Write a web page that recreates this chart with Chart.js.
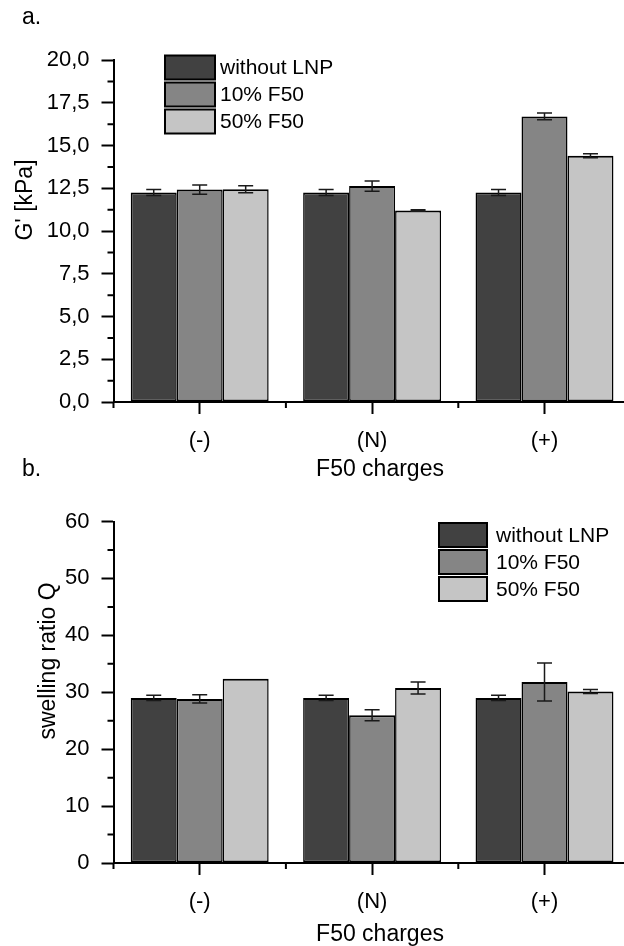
<!DOCTYPE html>
<html><head><meta charset="utf-8">
<script src="https://cdn.jsdelivr.net/npm/chart.js@4.4.0/dist/chart.umd.min.js"></script>
<style>
html,body{margin:0;padding:0;background:#fff;overflow:hidden;width:624px;height:946px;}
#wrap{position:relative;width:640px;height:946px;overflow:hidden;}
canvas{position:absolute;left:0;}
#cA{top:0;}
#cB{top:480px;}
</style></head><body>
<div id="wrap"><canvas id="cA" width="640" height="490"></canvas><canvas id="cB" width="640" height="466"></canvas></div>
<script>
// ---- data ----
const categories = ['(-)', '(N)', '(+)'];
const seriesNames = ['without LNP', '10% F50', '50% F50'];
const seriesColors = ['#414141', '#858585', '#c5c5c5'];

// panel a: G' [kPa]
const gNoLNP = [12.25, 12.25, 12.25];
const g10 = [12.42, 12.63, 16.7];
const g50 = [12.44, 11.2, 14.4];
const gErrNoLNP = [0.18, 0.18, 0.18];
const gErr10 = [0.27, 0.3, 0.2];
const gErr50 = [0.2, 0.05, 0.12];
const gTicks = [0, 2.5, 5, 7.5, 10, 12.5, 15, 17.5, 20];

// panel b: swelling ratio Q
const qNoLNP = [29.0, 29.0, 29.0];
const q10 = [28.83, 25.95, 31.79];
const q50 = [32.38, 30.74, 30.15];
const qErrNoLNP = [0.47, 0.47, 0.47];
const qErr10 = [0.73, 0.97, 3.34];
const qErr50 = [0, 1.06, 0.35];
const qTicks = [0, 10, 20, 30, 40, 50, 60];

const FONT = '"Liberation Sans", Arial, sans-serif';
Chart.defaults.font.family = FONT;
Chart.defaults.color = '#000';

const errorBarPlugin = {
  id: 'errBars',
  afterDatasetsDraw(chart) {
    const ctx = chart.ctx, y = chart.scales.y;
    ctx.save();
    ctx.strokeStyle = '#1a1a1a';
    ctx.lineWidth = 1.5;
    chart.data.datasets.forEach((ds, di) => {
      const meta = chart.getDatasetMeta(di);
      meta.data.forEach((el, i) => {
        const e = ds.errors[i];
        if (!e) return;
        const v = ds.data[i];
        const yt = y.getPixelForValue(v + e), yb = y.getPixelForValue(v - e);
        const x = el.x, h = 7.5;
        ctx.beginPath();
        ctx.moveTo(x, yt); ctx.lineTo(x, yb);
        ctx.moveTo(x - h, yt); ctx.lineTo(x + h, yt);
        ctx.moveTo(x - h, yb); ctx.lineTo(x + h, yb);
        ctx.stroke();
      });
    });
    ctx.restore();
  }
};

const minorTickPlugin = {
  id: 'minorTicks',
  afterDraw(chart) {
    const ctx = chart.ctx, xs = chart.scales.x, ys = chart.scales.y, a = chart.chartArea;
    const len = 6;
    ctx.save();
    ctx.strokeStyle = '#000';
    ctx.lineWidth = 2;
    ctx.beginPath();
    const t = ys.ticks;
    for (let i = 0; i < t.length - 1; i++) {
      const py = ys.getPixelForValue((t[i].value + t[i + 1].value) / 2);
      ctx.moveTo(a.left - len, py); ctx.lineTo(a.left, py);
    }
    const n = chart.data.labels.length;
    for (let i = 0; i <= n; i++) {
      const px = xs.getPixelForValue(i - 0.5);
      ctx.moveTo(px, a.bottom); ctx.lineTo(px, a.bottom + len);
    }
    ctx.stroke();
    ctx.restore();
  }
};

const textPlugin = {
  id: 'texts',
  afterDraw(chart, args, opts) {
    const ctx = chart.ctx;
    ctx.save();
    ctx.fillStyle = '#000';
    ctx.textBaseline = 'middle';
    (opts.items || []).forEach(it => {
      ctx.font = it.size + 'px ' + FONT;
      ctx.save();
      ctx.translate(it.x, it.y);
      if (it.rot) ctx.rotate(it.rot);
      ctx.textAlign = it.align || 'center';
      ctx.fillText(it.text, 0, 0);
      ctx.restore();
    });
    ctx.restore();
  }
};

const legendPlugin = {
  id: 'boxLegend',
  afterDraw(chart, args, o) {
    const ctx = chart.ctx;
    ctx.save();
    chart.data.datasets.forEach((ds, i) => {
      const cy = o.y0 + i * o.pitch;
      ctx.fillStyle = ds.backgroundColor;
      ctx.fillRect(o.x, cy - o.h / 2, o.w, o.h);
      ctx.strokeStyle = '#000';
      ctx.lineWidth = 2;
      ctx.strokeRect(o.x, cy - o.h / 2, o.w, o.h);
      ctx.fillStyle = '#000';
      ctx.font = o.size + 'px ' + FONT;
      ctx.textAlign = 'left';
      ctx.textBaseline = 'middle';
      ctx.fillText(ds.label, o.tx, cy + 1);
    });
    ctx.restore();
  }
};

function buildChart(id, p) {
  return new Chart(document.getElementById(id), {
    type: 'bar',
    data: {
      labels: categories,
      datasets: p.series.map((vals, i) => ({
        label: seriesNames[i], data: vals, errors: p.errors[i],
        backgroundColor: seriesColors[i], borderColor: '#000',
        borderWidth: {top: 2, bottom: 2, left: 1.5, right: 1.5}, borderSkipped: false,
        categoryPercentage: 0.8, barPercentage: 1.0
      }))
    },
    options: {
      responsive: false, animation: false, devicePixelRatio: 1,
      layout: {padding: {left: 0, top: p.padTop, right: p.padRight, bottom: 0}},
      plugins: {
        legend: {display: false}, tooltip: {enabled: false},
        texts: {items: p.texts},
        boxLegend: p.legend
      },
      scales: {
        x: {
          offset: true,
          grid: {offset: false, drawOnChartArea: false, tickLength: 12, tickWidth: 2, color: '#000'},
          border: {color: '#000', width: 2},
          ticks: {padding: 14, color: '#000', font: {size: 22}, maxRotation: 0},
          afterFit: s => { s.height = p.xH; }
        },
        y: {
          min: p.min, max: p.max,
          afterBuildTicks: s => { s.ticks = p.ticks.map(v => ({value: v})); },
          ticks: {callback: p.fmt, padding: 12, color: '#000', font: {size: 22}},
          grid: {drawOnChartArea: false, tickLength: 12, tickWidth: 2, color: '#000'},
          border: {color: '#000', width: 2},
          afterFit: s => { s.width = p.yW; }
        }
      }
    },
    plugins: [errorBarPlugin, minorTickPlugin, textPlugin, legendPlugin]
  });
}

buildChart('cA', {
  series: [gNoLNP, g10, g50], errors: [gErrNoLNP, gErr10, gErr50],
  min: 0, max: 20, ticks: gTicks, fmt: v => v.toFixed(1).replace('.', ','),
  padTop: 60, padRight: 9.3, yW: 113.5, xH: 88,
  texts: [
    {text: 'a.', x: 22, y: 18, size: 23, align: 'left'},
    {text: "G' [kPa]", x: 26, y: 200, size: 23, rot: -Math.PI / 2},
    {text: 'F50 charges', x: 380, y: 470, size: 23},
    {text: 'b.', x: 22, y: 470, size: 23, align: 'left'}
  ],
  legend: {x: 165, w: 50, h: 24, y0: 67.5, pitch: 27, tx: 220, size: 21}
});

buildChart('cB', {
  series: [qNoLNP, q10, q50], errors: [qErrNoLNP, qErr10, qErr50],
  min: 0, max: 60, ticks: qTicks, fmt: v => String(v),
  padTop: 41.5, padRight: 9.3, yW: 113.5, xH: 83,
  texts: [
    {text: 'swelling ratio Q', x: 49, y: 181, size: 23, rot: -Math.PI / 2},
    {text: 'F50 charges', x: 380, y: 455, size: 23}
  ],
  legend: {x: 439, w: 48, h: 24, y0: 55, pitch: 27, tx: 496, size: 21}
});
</script>
</body></html>
